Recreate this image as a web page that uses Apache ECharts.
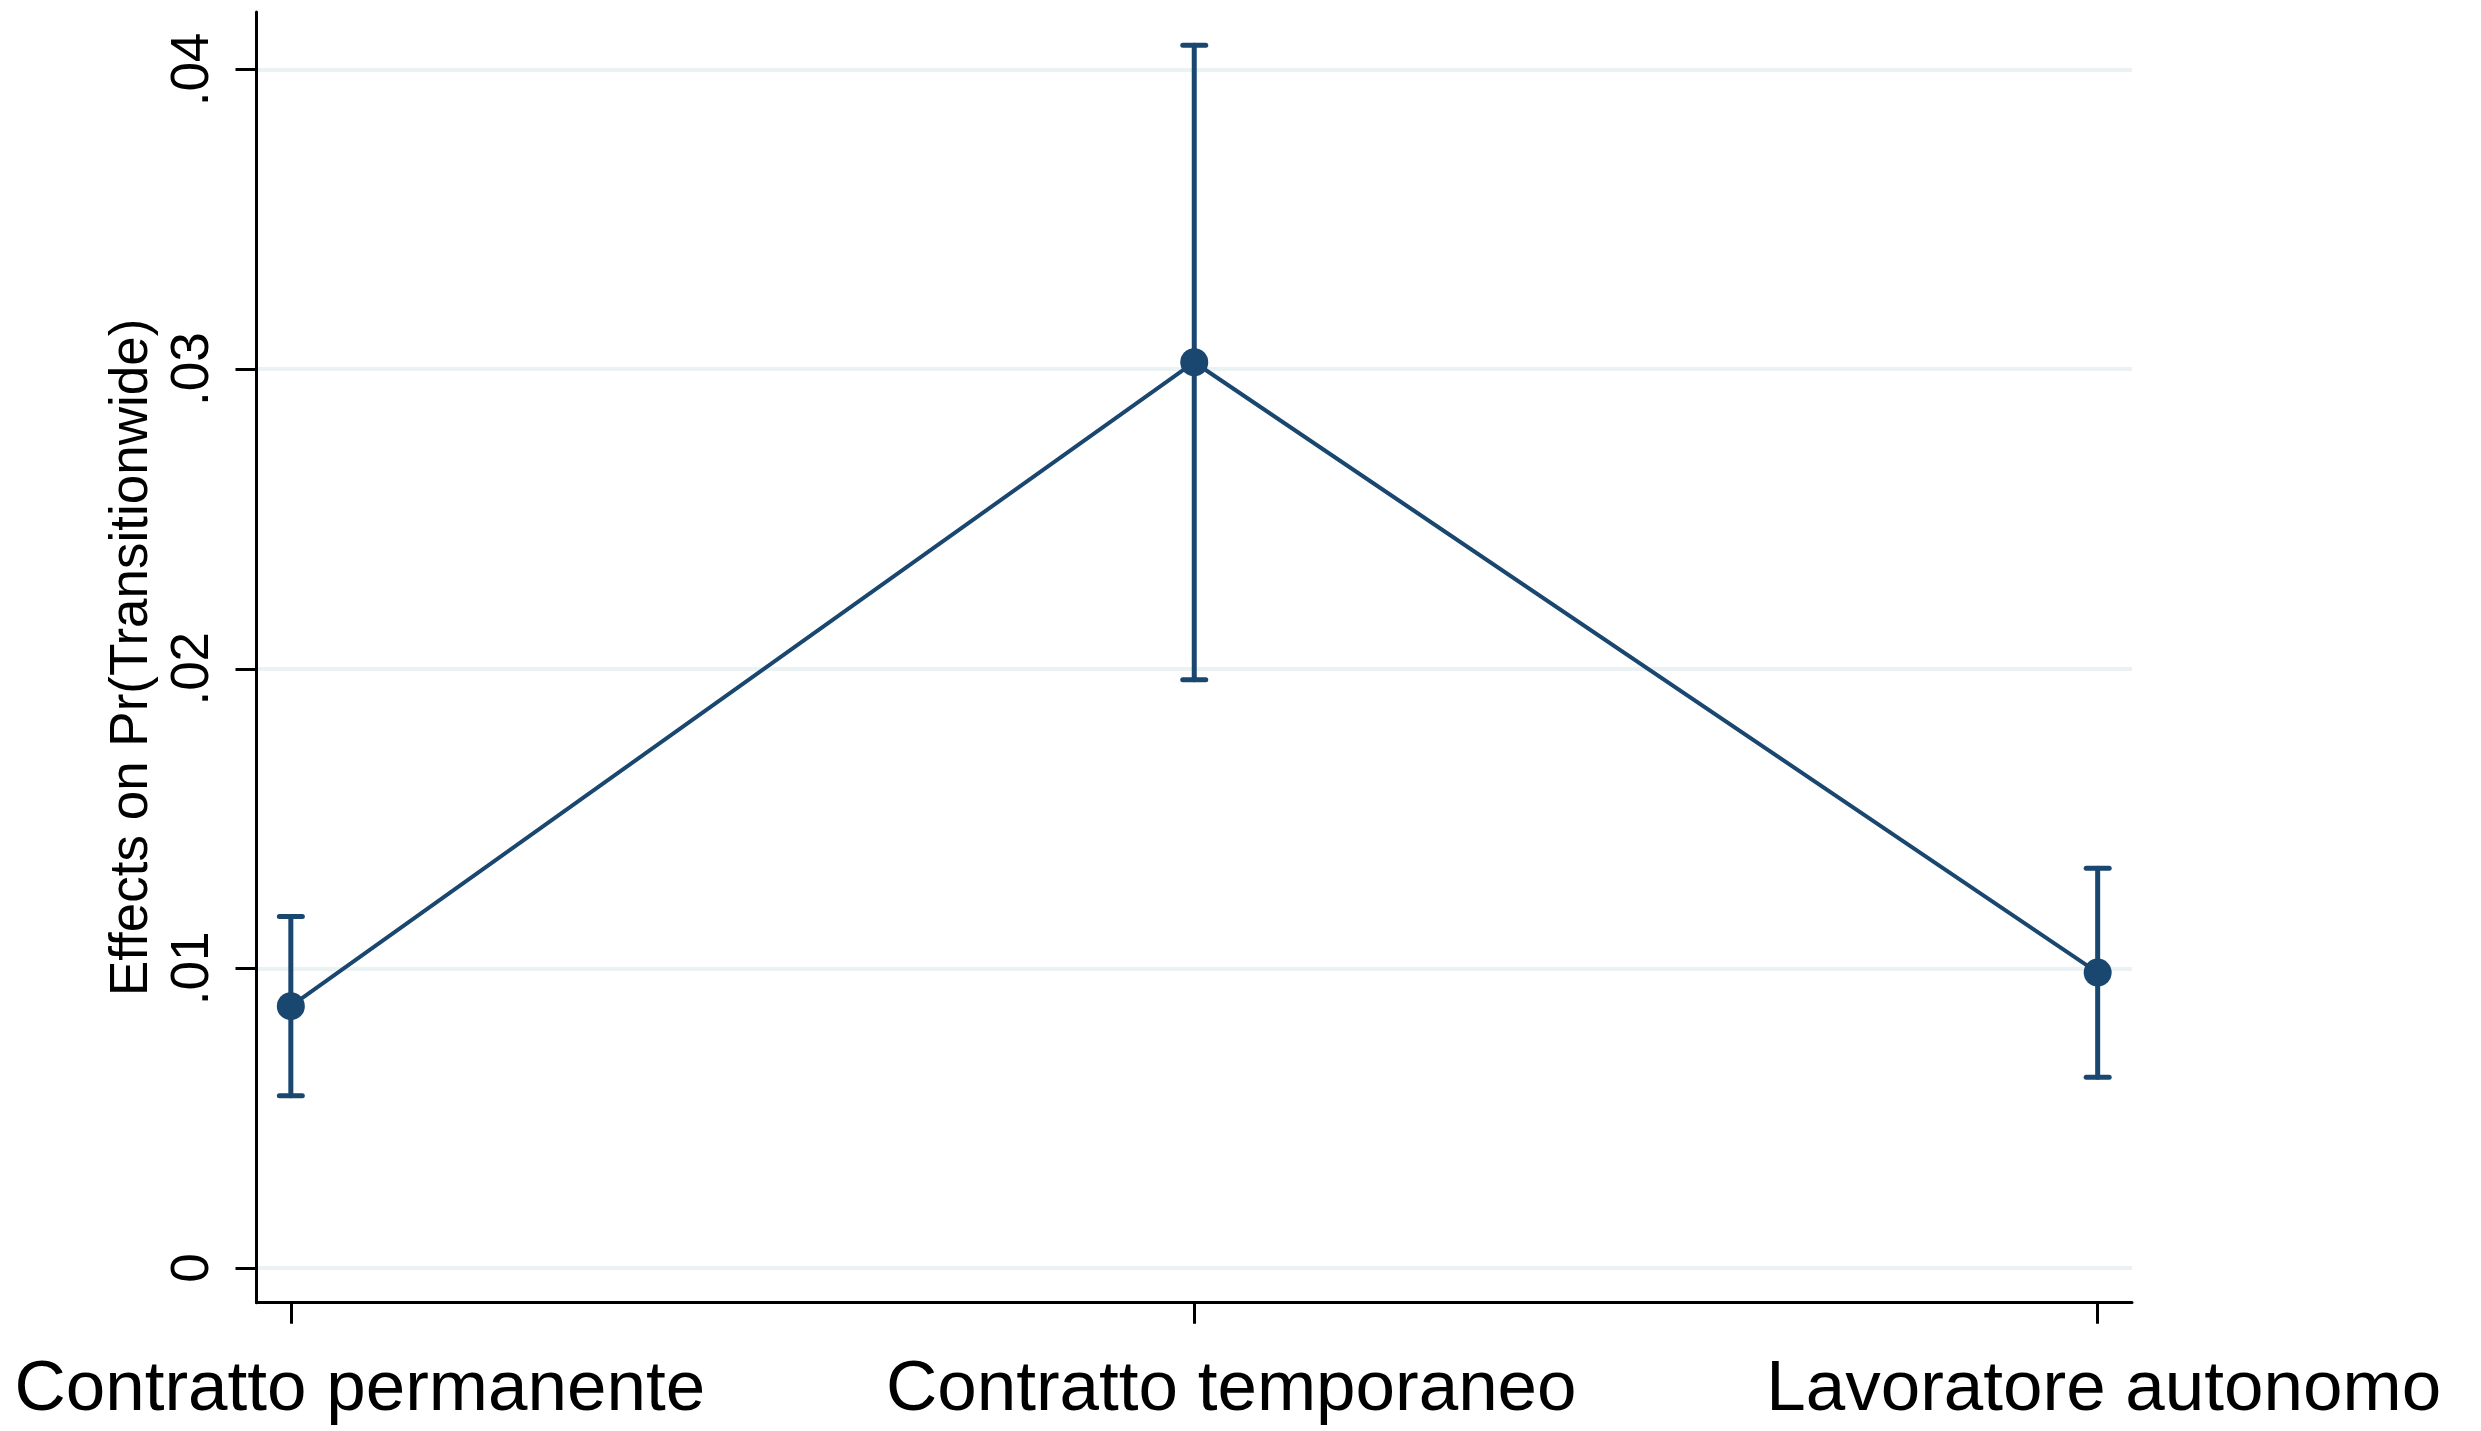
<!DOCTYPE html>
<html>
<head>
<meta charset="utf-8">
<script src="https://cdn.jsdelivr.net/npm/echarts@6/dist/echarts.min.js"></script>
<style>
  html, body { margin: 0; padding: 0; background: #ffffff; }
  #chart { width: 2481px; height: 1431px; }
</style>
</head>
<body>
<div id="chart"></div>
<script>
// Marginal effects with 95% confidence intervals, by contract type
const categories = ['Contratto permanente', 'Contratto temporaneo', 'Lavoratore autonomo'];
const estimates = [0.00874, 0.03023, 0.00986];
const ciLower = [0.00575, 0.01963, 0.00637];
const ciUpper = [0.01173, 0.04081, 0.01334];
const yTickValues = [0, 0.01, 0.02, 0.03, 0.04];
const yTickLabels = ['0', '.01', '.02', '.03', '.04'];
const yTitle = 'Effects on Pr(Transitionwide)';

const NAVY = '#1a476f';
const GRID = '#eaf2f3';
const FONT = "'Liberation Sans', Arial, Helvetica, sans-serif";

const xIdx = categories.map((_, i) => i);

// horizontal nudge of each category label (px to the right of its tick)
const labelShift = [69, 37, 6];
const rich = {};
categories.forEach((c, i) => {
  rich['c' + i] = {
    fontSize: 71, fontFamily: FONT, color: '#000', lineHeight: 72,
    padding: [0, 0, 0, labelShift[i] * 2]
  };
});

const chart = echarts.init(document.getElementById('chart'), null, { renderer: 'canvas' });

const option = {
  animation: false,
  backgroundColor: '#ffffff',
  grid: {
    left: 256.5, right: 349, top: 12, bottom: 128.3,
    containLabel: false,
    outerBoundsMode: 'none'
  },
  xAxis: {
    type: 'value',
    min: -0.038,
    max: 2.038,
    splitLine: { show: false },
    axisLine: { show: true, onZero: false, lineStyle: { color: '#000', width: 3 } },
    axisTick: { show: true, customValues: xIdx, length: 21, lineStyle: { color: '#000', width: 3 } },
    axisLabel: {
      customValues: xIdx,
      margin: 52,
      formatter: v => {
        const i = Math.round(v);
        return '{c' + i + '|' + categories[i] + '}';
      },
      rich: rich
    }
  },
  yAxis: {
    type: 'value',
    min: -0.001158,
    max: 0.041919,
    name: yTitle,
    nameLocation: 'middle',
    nameRotate: 90,
    nameGap: 92,
    nameTextStyle: { fontSize: 53, fontFamily: FONT, color: '#000', lineHeight: 53 },
    axisLine: { show: true, onZero: false, lineStyle: { color: '#000', width: 3 } },
    axisTick: { show: true, customValues: yTickValues, length: 21, lineStyle: { color: '#000', width: 3 } },
    axisLabel: {
      customValues: yTickValues,
      rotate: 90,
      margin: 37,
      fontSize: 53,
      lineHeight: 53,
      fontFamily: FONT,
      color: '#000',
      formatter: v => {
        const k = yTickValues.findIndex(t => Math.abs(t - v) < 1e-9);
        return k >= 0 ? yTickLabels[k] : '';
      }
    },
    splitLine: { show: true, lineStyle: { color: GRID, width: 4 } }
  },
  series: [
    {
      type: 'custom',
      name: 'ci',
      z: 2,
      data: xIdx.map(i => [i, ciLower[i], ciUpper[i]]),
      renderItem: (params, api) => {
        const x = api.value(0);
        const lo = api.coord([x, api.value(1)]);
        const hi = api.coord([x, api.value(2)]);
        const half = 11.5;
        const style = { stroke: NAVY, lineWidth: 5, lineCap: 'round' };
        return {
          type: 'group',
          children: [
            { type: 'line', shape: { x1: lo[0], y1: lo[1], x2: hi[0], y2: hi[1] }, style: style },
            { type: 'line', shape: { x1: hi[0] - half, y1: hi[1], x2: hi[0] + half, y2: hi[1] }, style: style },
            { type: 'line', shape: { x1: lo[0] - half, y1: lo[1], x2: lo[0] + half, y2: lo[1] }, style: style }
          ]
        };
      }
    },
    {
      type: 'line',
      name: 'effect',
      z: 3,
      data: xIdx.map(i => [i, estimates[i]]),
      symbol: 'circle',
      symbolSize: 28,
      lineStyle: { color: NAVY, width: 4 },
      itemStyle: { color: NAVY, borderWidth: 0 }
    }
  ]
};

chart.setOption(option);
</script>
</body>
</html>
